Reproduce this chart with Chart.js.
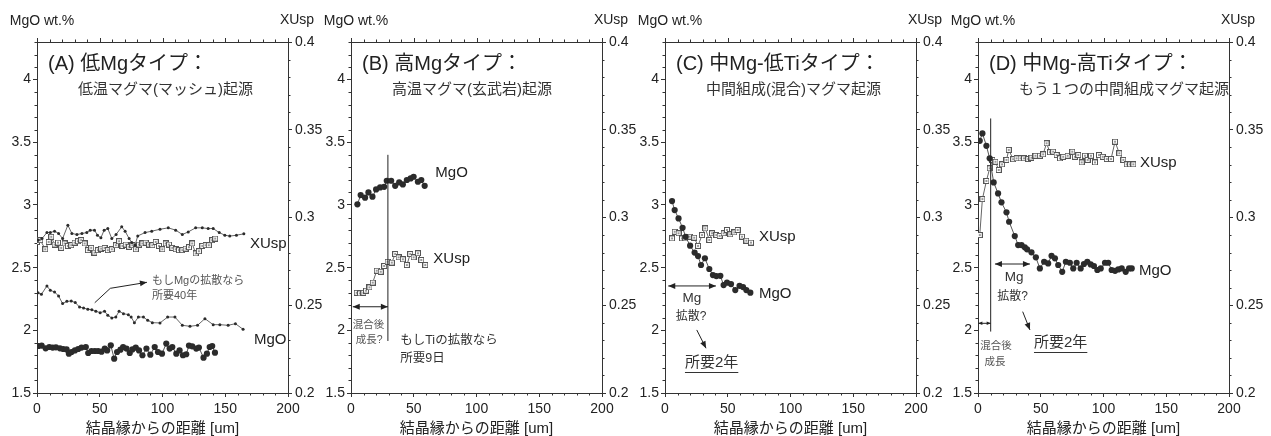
<!DOCTYPE html>
<html>
<head>
<meta charset="utf-8">
<script src="https://cdn.jsdelivr.net/npm/chart.js@4.4.0/dist/chart.umd.min.js"></script>
<style>
  body { margin: 0; background: #fff; width: 1271px; height: 436px; overflow: hidden; position: relative; }
  canvas { position: absolute; top: 0; }
</style>
</head>
<body>
<canvas id="cA" width="333" height="436" style="left:0px"></canvas>
<canvas id="cB" width="333" height="436" style="left:314px"></canvas>
<canvas id="cC" width="333" height="436" style="left:628px"></canvas>
<canvas id="cD" width="333" height="436" style="left:941px"></canvas>
<script>
// ---- tick labels ----
const xTicks = [0, 50, 100, 150, 200];
const mgoTicks = [1.5, 2, 2.5, 3, 3.5, 4];
const xuspTicks = [0.2, 0.25, 0.3, 0.35, 0.4];
const xTitle = '結晶縁からの距離 [um]';

// ---- (A) low-Mg type ----
const aSqX = [0,2.6,6.6,9.3,11.4,14.0,16.7,19.3,22.0,24.6,27.3,29.9,32.6,35.2,37.9,40.5,43.2,45.8,48.5,51.1,53.8,56.4,59.6,62.8,65.4,68.1,70.7,73.4,76.0,78.7,81.3,84.0,86.6,89.3,91.9,94.6,97.2,99.9,102.5,105.2,107.8,110.5,113.1,115.8,118.4,121.1,123.7,126.4,129.0,131.7,134.3,136.9,139.6,142.0];
const aSqY = [0.2861,0.2871,0.2819,0.2861,0.2890,0.2846,0.2857,0.2827,0.2852,0.2838,0.2842,0.2857,0.2865,0.2871,0.2852,0.2814,0.2827,0.2800,0.2814,0.2823,0.2827,0.2814,0.2819,0.2842,0.2865,0.2838,0.2846,0.2833,0.2842,0.2819,0.2846,0.2852,0.2857,0.2846,0.2842,0.2861,0.2838,0.2819,0.2852,0.2846,0.2827,0.2819,0.2814,0.2814,0.2823,0.2831,0.2852,0.2795,0.2808,0.2838,0.2842,0.2842,0.2871,0.2880];
const aUspDotX = [0.8,4.0,7.9,10.6,14.0,17.2,20.4,24.6,27.8,31.8,35.8,39.7,42.4,45.8,48.2,50.9,53.5,56.4,59.6,63.0,67.5,70.2,73.4,75.5,78.1,80.3,86.1,91.4,98.0,104.6,110.5,115.8,120.5,126.4,131.7,136.4,140.4,145.2,149.7,153.6,158.9,164.8];
const aUspDotY = [0.2871,0.2880,0.2914,0.2914,0.2922,0.2909,0.2880,0.2956,0.2909,0.2903,0.2909,0.2914,0.2928,0.2928,0.2899,0.2884,0.2928,0.2937,0.2880,0.2903,0.2947,0.2922,0.2880,0.2857,0.2842,0.2895,0.2914,0.2922,0.2933,0.2941,0.2928,0.2903,0.2918,0.2941,0.2941,0.2937,0.2937,0.2914,0.2899,0.2894,0.2899,0.2907];
const aMgoX = [1.1,3.7,6.9,9.8,12.5,15.1,18.3,20.9,23.6,25.4,27.5,30.2,32.8,35.5,38.9,40.8,43.4,46.1,48.7,51.4,54.0,55.9,58.8,61.5,63.8,66.5,68.6,71.3,73.9,76.0,78.7,81.3,84.0,87.2,90.3,93.8,96.4,99.6,103.0,105.7,107.8,111.0,113.6,116.3,118.9,121.1,123.7,126.9,129.0,132.7,135.4,137.6,139.6,141.8];
const aMgoY = [1.875,1.878,1.856,1.867,1.862,1.864,1.856,1.851,1.848,1.814,1.827,1.840,1.851,1.862,1.867,1.819,1.835,1.835,1.835,1.830,1.854,1.840,1.880,1.774,1.827,1.846,1.867,1.854,1.819,1.848,1.862,1.840,1.801,1.854,1.806,1.867,1.827,1.814,1.894,1.854,1.867,1.814,1.840,1.801,1.809,1.878,1.872,1.854,1.862,1.782,1.814,1.867,1.875,1.822];
const aMgoDotX = [0.8,3.5,7.9,10.6,14.0,17.2,20.4,23.8,27.3,30.5,33.9,37.1,40.5,43.7,46.9,50.3,53.8,56.4,59.6,62.8,65.4,68.9,72.8,75.0,77.6,80.8,84.8,88.2,91.9,98.0,104.1,109.9,115.8,121.9,127.9,133.8,140.4,145.7,152.3,158.1,164.2];
const aMgoDotY = [2.300,2.287,2.354,2.319,2.306,2.274,2.213,2.231,2.234,2.221,2.186,2.178,2.168,2.165,2.152,2.141,2.152,2.120,2.098,2.106,2.152,2.133,2.125,2.106,2.061,2.106,2.106,2.080,2.061,2.059,2.106,2.106,2.040,2.032,2.040,2.093,2.045,2.045,2.040,2.053,2.008];

// ---- (B) high-Mg type ----
const bMgoX = [5.1,7.7,11.2,13.9,17.1,20.0,23.2,26.4,28.5,32.0,35.2,38.4,41.3,44.5,47.5,49.9,53.3,56.0,58.7];
const bMgoY = [3.005,3.079,3.058,3.100,3.066,3.124,3.140,3.145,3.193,3.193,3.153,3.180,3.164,3.199,3.212,3.225,3.185,3.199,3.153];
const bSqX = [4.5,7.2,9.9,12.0,14.7,17.3,20.5,23.7,26.4,29.1,32.5,35.2,37.9,41.3,44.5,47.2,49.9,53.3,56.0,59.2];
const bSqY = [0.2571,0.2568,0.2571,0.2583,0.2602,0.2629,0.2697,0.2691,0.2724,0.2748,0.2743,0.2792,0.2773,0.2762,0.2729,0.2792,0.2773,0.2796,0.2758,0.2729];

// ---- (C) mid-Mg low-Ti type ----
const cMgoX = [5.6,7.7,10.8,14.0,16.5,20.0,23.6,26.3,28.7,31.8,35.3,38.2,40.9,44.1,46.7,49.4,52.6,56.0,59.4,62.2,64.8,68.0];
const cMgoY = [3.031,2.959,2.893,2.818,2.746,2.675,2.620,2.592,2.521,2.575,2.489,2.441,2.433,2.435,2.361,2.380,2.369,2.321,2.355,2.345,2.321,2.300];
const cSqX = [5.6,7.7,10.8,13.5,16.2,19.6,23.3,26.3,29.5,32.1,35.3,37.5,40.9,43.5,46.7,49.4,52.0,55.2,57.9,61.4,64.8,68.5];
const cSqY = [0.2881,0.2919,0.2910,0.2881,0.2881,0.2891,0.2885,0.2838,0.2900,0.2938,0.2872,0.2910,0.2900,0.2895,0.2910,0.2929,0.2904,0.2915,0.2929,0.2891,0.2868,0.2857];

// ---- (D) mid-Mg high-Ti type ----
const dMgoX = [1.4,3.5,6.7,9.3,12.5,16.0,18.7,22.7,24.8,29.3,32.0,34.7,37.3,39.1,42.6,46.1,49.3,52.7,55.9,58.6,61.3,63.9,67.1,70.0,73.2,75.9,78.6,81.8,84.4,87.1,89.8,92.4,95.1,97.8,101.2,103.8,106.5,109.2,111.8,114.5,117.7,120.4,122.5];
const dMgoY = [3.512,3.571,3.472,3.372,3.180,3.092,3.021,2.941,2.866,2.752,2.680,2.680,2.662,2.646,2.622,2.582,2.494,2.547,2.534,2.595,2.574,2.521,2.467,2.547,2.539,2.494,2.539,2.494,2.529,2.547,2.526,2.513,2.481,2.494,2.539,2.539,2.481,2.475,2.486,2.494,2.467,2.494,2.494];
const dSqX = [1.4,3.5,6.7,9.3,11.5,13.9,16.5,19.2,22.7,24.5,28.0,30.7,33.9,36.7,40.0,42.6,45.8,49.3,51.9,54.6,57.3,59.9,62.6,65.3,67.9,71.4,75.1,77.2,79.9,82.6,85.2,87.4,90.0,93.2,96.4,99.4,102.6,106.0,109.2,112.6,115.8,118.5,121.2,123.8];
const dSqY = [0.2900,0.3105,0.3208,0.3280,0.3328,0.3318,0.3271,0.3303,0.3328,0.3385,0.3332,0.3337,0.3337,0.3337,0.3333,0.3341,0.3352,0.3352,0.3360,0.3423,0.3372,0.3375,0.3356,0.3337,0.3346,0.3352,0.3375,0.3346,0.3356,0.3314,0.3352,0.3328,0.3352,0.3314,0.3356,0.3346,0.3333,0.3333,0.3432,0.3366,0.3328,0.3303,0.3303,0.3303];

const FONT = "'Liberation Sans', 'Noto Sans CJK JP', sans-serif";
const TXT = '#222';
const GREY = '#555';
const AX = '#333';
const LINE = '#555';

// open square with a small cross, like the XUsp markers
const sqImg = document.createElement('canvas');
sqImg.width = 6; sqImg.height = 6;
(function () {
  const g = sqImg.getContext('2d');
  g.fillStyle = '#fff'; g.fillRect(0, 0, 6, 6);
  g.strokeStyle = '#555'; g.lineWidth = 1; g.strokeRect(0.5, 0.5, 5, 5);
  g.fillStyle = '#999'; g.fillRect(2, 2, 2, 2);
})();

function pts(xs, ys) { return xs.map((v, i) => ({ x: v, y: ys[i] })); }

function big(xs, ys) {
  return { data: pts(xs, ys), yAxisID: 'y', showLine: true, borderColor: LINE, borderWidth: 1,
    pointRadius: 3.1, pointBackgroundColor: '#2b2b2b', pointBorderColor: '#2b2b2b', pointBorderWidth: 0 };
}
function dot(xs, ys, axis) {
  return { data: pts(xs, ys), yAxisID: axis, showLine: true, borderColor: '#666', borderWidth: 1,
    pointRadius: 1.5, pointBackgroundColor: '#2b2b2b', pointBorderColor: '#2b2b2b', pointBorderWidth: 0 };
}
function sq(xs, ys) {
  return { data: pts(xs, ys), yAxisID: 'y2', showLine: true, borderColor: '#666', borderWidth: 1,
    pointStyle: sqImg, pointRadius: 3 };
}

function head(ctx, x0, y0, x1, y1, L) {
  const a = Math.atan2(y1 - y0, x1 - x0), W = L * 0.42;
  ctx.beginPath();
  ctx.moveTo(x1, y1);
  ctx.lineTo(x1 - L * Math.cos(a) + W * Math.sin(a), y1 - L * Math.sin(a) - W * Math.cos(a));
  ctx.lineTo(x1 - L * Math.cos(a) - W * Math.sin(a), y1 - L * Math.sin(a) + W * Math.cos(a));
  ctx.closePath();
  ctx.fill();
}

function text(ctx, s, x, y, size, color, align) {
  ctx.font = size + 'px ' + FONT;
  ctx.fillStyle = color || TXT;
  ctx.textAlign = align || 'left';
  ctx.textBaseline = 'middle';
  ctx.fillText(s, x, y);
}

// frame, minor ticks, headers and notes
const deco = {
  id: 'deco',
  afterDraw(chart, args, o) {
    const { ctx, chartArea: a } = chart;
    const sx = chart.scales.x, sy = chart.scales.y, s2 = chart.scales.y2;
    const r = v => Math.round(v) + 0.5;
    ctx.save();
    ctx.strokeStyle = AX;
    ctx.lineWidth = 1;
    ctx.beginPath();
    ctx.moveTo(a.left, r(a.top)); ctx.lineTo(a.right, r(a.top));
    for (let i = 0; i <= 20; i++) {
      const px = r(sx.getPixelForValue(i * 10));
      const major = i % 5 === 0;
      ctx.moveTo(px, a.top); ctx.lineTo(px, a.top - (major ? 4 : 2.5));
      if (!major) { ctx.moveTo(px, a.bottom); ctx.lineTo(px, a.bottom + 2.5); }
    }
    for (let i = 15; i <= 43; i++) {
      if (i % 5 === 0) continue;
      const py = r(sy.getPixelForValue(i / 10));
      ctx.moveTo(a.left, py); ctx.lineTo(a.left - 2.5, py);
    }
    for (let i = 20; i <= 40; i++) {
      if (i % 5 === 0) continue;
      const py = r(s2.getPixelForValue(i / 100));
      ctx.moveTo(a.right, py); ctx.lineTo(a.right + 2.5, py);
    }
    ctx.stroke();

    text(ctx, 'MgO wt.%', a.left + 5, 21, 14, TXT, 'center');
    text(ctx, 'XUsp', a.right + 9, 20, 14, TXT, 'center');
    text(ctx, o.title, a.left + 11, a.top + 22, 20, TXT);
    text(ctx, o.sub, a.left + 41, a.top + 48, 15, '#333');

    const P = (x, y) => [sx.getPixelForValue(x), sy.getPixelForValue(y)];
    for (const n of o.notes) {
      if (n.t === 'text') {
        const [x, y] = P(n.x, n.y);
        text(ctx, n.s, x, y, n.size, n.c, n.align);
        if (n.u) {
          const w = ctx.measureText(n.s).width;
          ctx.strokeStyle = n.c || TXT;
          ctx.beginPath(); ctx.moveTo(x, r(y + n.size * 0.6)); ctx.lineTo(x + w, r(y + n.size * 0.6)); ctx.stroke();
        }
      } else {
        const p = n.pts.map(q => P(q[0], q[1]));
        ctx.strokeStyle = '#222'; ctx.fillStyle = '#222'; ctx.lineWidth = 1;
        ctx.beginPath();
        ctx.moveTo(p[0][0], p[0][1]);
        for (let i = 1; i < p.length; i++) ctx.lineTo(p[i][0], p[i][1]);
        ctx.stroke();
        const L = n.small ? 4 : 7;
        const k = p.length - 1;
        if (n.head === 'end' || n.head === 'both') head(ctx, p[k - 1][0], p[k - 1][1], p[k][0], p[k][1], L);
        if (n.head === 'both') head(ctx, p[1][0], p[1][1], p[0][0], p[0][1], L);
      }
    }
    ctx.restore();
  }
};

function makePanel(id, sets, d) {
  const tickFont = { family: FONT, size: 14 };
  const grid = { drawOnChartArea: false, drawTicks: true, tickLength: 4, color: AX, lineWidth: 1 };
  const border = { display: true, color: AX, width: 1 };
  new Chart(document.getElementById(id), {
    type: 'scatter',
    data: { datasets: sets },
    options: {
      responsive: false,
      animation: false,
      events: [],
      layout: { padding: { top: 42, left: 0, right: 0, bottom: 0 } },
      plugins: { legend: { display: false }, tooltip: { enabled: false }, deco: d },
      scales: {
        x: {
          type: 'linear', position: 'bottom', min: 0, max: 200,
          afterBuildTicks: s => { s.ticks = xTicks.map(v => ({ value: v })); },
          afterFit: s => { s.height = 43; },
          grid, border,
          ticks: { color: TXT, font: tickFont, padding: 4, maxRotation: 0, autoSkip: false },
          title: { display: true, text: xTitle, color: TXT, font: { family: FONT, size: 15, lineHeight: 1 }, padding: 0 }
        },
        y: {
          type: 'linear', position: 'left', min: 1.5, max: 4.3,
          afterBuildTicks: s => { s.ticks = mgoTicks.map(v => ({ value: v })); },
          afterFit: s => { s.width = 37; },
          grid, border,
          ticks: { color: TXT, font: tickFont, padding: 2, callback: v => String(v) }
        },
        y2: {
          type: 'linear', position: 'right', min: 0.2, max: 0.4,
          afterBuildTicks: s => { s.ticks = xuspTicks.map(v => ({ value: v })); },
          afterFit: s => { s.width = 45; },
          grid, border,
          ticks: { color: TXT, font: tickFont, padding: 3, callback: v => String(+v.toFixed(2)) }
        }
      }
    },
    plugins: [deco]
  });
}

makePanel('cA', [
  dot(aUspDotX, aUspDotY, 'y2'),
  sq(aSqX, aSqY),
  dot(aMgoDotX, aMgoDotY, 'y'),
  big(aMgoX, aMgoY)
], {
  title: '(A) 低Mgタイプ：', sub: '低温マグマ(マッシュ)起源',
  notes: [
    { t: 'text', x: 169.7, y: 2.689, s: 'XUsp', size: 15 },
    { t: 'text', x: 172.9, y: 1.923, s: 'MgO', size: 15 },
    { t: 'text', x: 91.6, y: 2.393, s: 'もしMgの拡散なら', size: 11, c: GREY },
    { t: 'text', x: 91.6, y: 2.274, s: '所要40年', size: 11, c: GREY },
    { t: 'line', pts: [[46, 2.22], [58.4, 2.335], [87.6, 2.383]], head: 'end' }
  ]
});

makePanel('cB', [
  big(bMgoX, bMgoY),
  sq(bSqX, bSqY)
], {
  title: '(B) 高Mgタイプ：', sub: '高温マグマ(玄武岩)起源',
  notes: [
    { t: 'line', pts: [[29.4, 3.4], [29.4, 1.915]] },
    { t: 'line', pts: [[1.4, 2.188], [29.4, 2.188]], head: 'both' },
    { t: 'text', x: 13.9, y: 2.042, s: '混合後', size: 10.5, c: GREY, align: 'center' },
    { t: 'text', x: 14.4, y: 1.923, s: '成長?', size: 10.5, c: GREY, align: 'center' },
    { t: 'text', x: 39.2, y: 1.915, s: 'もしTiの拡散なら', size: 12.5, c: '#333' },
    { t: 'text', x: 39.2, y: 1.771, s: '所要9日', size: 12.5, c: '#333' },
    { t: 'text', x: 67.2, y: 3.255, s: 'MgO', size: 15 },
    { t: 'text', x: 65.6, y: 2.569, s: 'XUsp', size: 15 }
  ]
});

makePanel('cC', [
  big(cMgoX, cMgoY),
  sq(cSqX, cSqY)
], {
  title: '(C) 中Mg-低Tiタイプ：', sub: '中間組成(混合)マグマ起源',
  notes: [
    { t: 'line', pts: [[2.6, 2.354], [40.6, 2.354]], head: 'both' },
    { t: 'text', x: 21.5, y: 2.258, s: 'Mg', size: 13.5, c: '#333', align: 'center' },
    { t: 'text', x: 20.7, y: 2.106, s: '拡散?', size: 12, c: '#333', align: 'center' },
    { t: 'line', pts: [[25.3, 2.003], [32.7, 1.857]], head: 'end' },
    { t: 'text', x: 15.9, y: 1.739, s: '所要2年', size: 15, c: '#333', u: true },
    { t: 'text', x: 74.9, y: 2.744, s: 'XUsp', size: 15 },
    { t: 'text', x: 74.9, y: 2.290, s: 'MgO', size: 15 }
  ]
});

makePanel('cD', [
  big(dMgoX, dMgoY),
  sq(dSqX, dSqY)
], {
  title: '(D) 中Mg-高Tiタイプ：', sub: 'もう１つの中間組成マグマ起源',
  notes: [
    { t: 'line', pts: [[10.1, 3.69], [10.1, 1.99]] },
    { t: 'line', pts: [[0.3, 2.056], [10.1, 2.056]], head: 'both', small: true },
    { t: 'text', x: 14.3, y: 1.877, s: '混合後', size: 10.5, c: GREY, align: 'center' },
    { t: 'text', x: 13.5, y: 1.747, s: '成長', size: 10.5, c: GREY, align: 'center' },
    { t: 'line', pts: [[13.5, 2.529], [41.4, 2.529]], head: 'both' },
    { t: 'text', x: 28.7, y: 2.425, s: 'Mg', size: 13.5, c: '#333', align: 'center' },
    { t: 'text', x: 27.5, y: 2.266, s: '拡散?', size: 12, c: '#333', align: 'center' },
    { t: 'line', pts: [[35.6, 2.149], [41.4, 2.003]], head: 'end' },
    { t: 'text', x: 44.6, y: 1.899, s: '所要2年', size: 15, c: '#333', u: true },
    { t: 'text', x: 129.1, y: 3.335, s: 'XUsp', size: 15 },
    { t: 'text', x: 128.3, y: 2.473, s: 'MgO', size: 15 }
  ]
});
</script>
</body>
</html>
